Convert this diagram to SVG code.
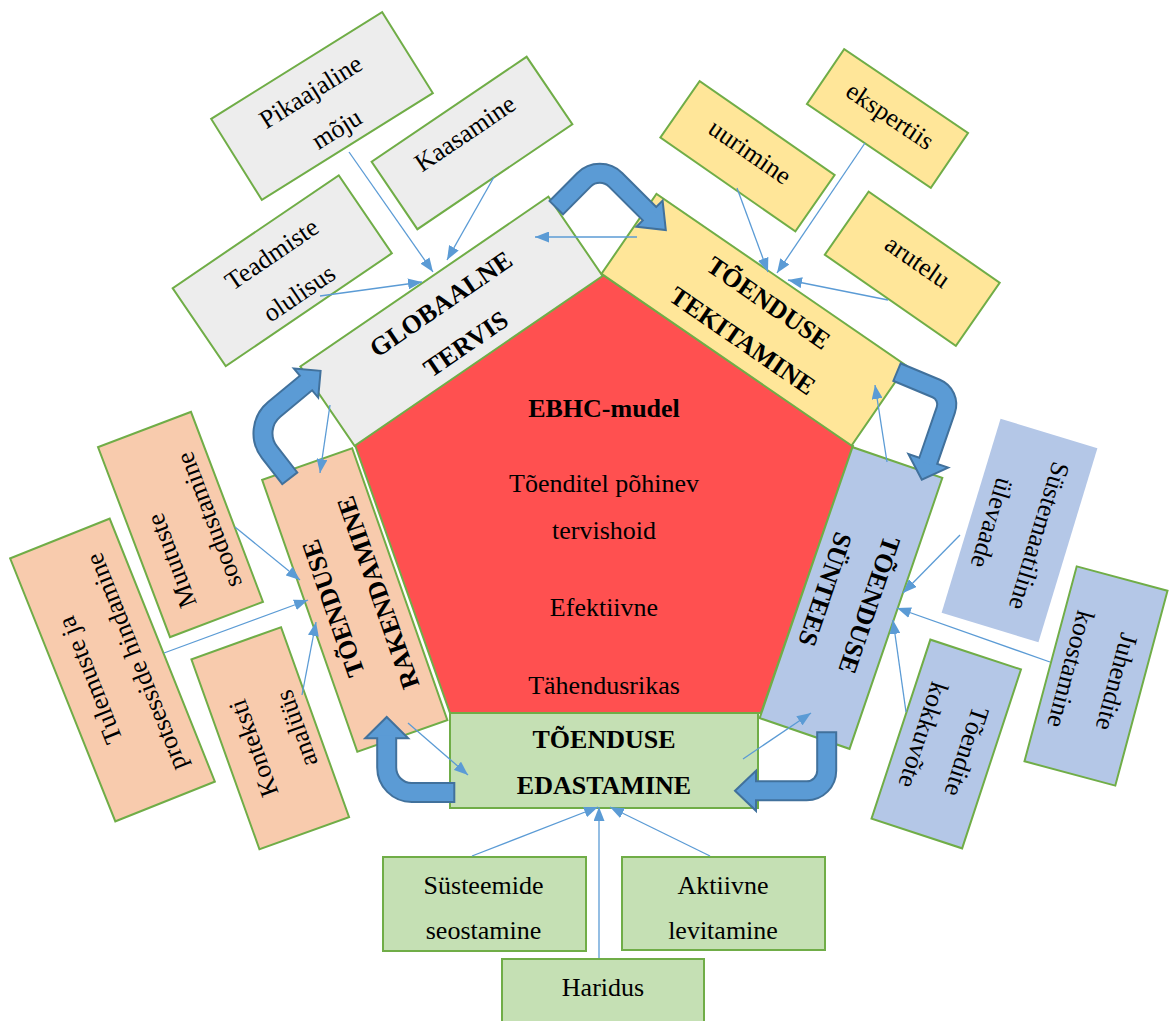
<svg xmlns="http://www.w3.org/2000/svg" width="1169" height="1021" viewBox="0 0 1169 1021">
  <defs>
    <style>
      .box { stroke: #70AD47; stroke-width: 2; }
      .nostroke { stroke: none; }
      .grey { fill: #EDEDED; }
      .yellow { fill: #FFE699; }
      .orange { fill: #F8CBAD; }
      .blue { fill: #B4C7E7; }
      .green { fill: #C5E0B4; }
      .core { fill: #FF5050; stroke: #70AD47; stroke-width: 2; }
      .lbl { font-family: "Liberation Serif", "Times New Roman", serif; font-size: 26px; fill: #000; text-anchor: middle; dominant-baseline: central; }
      .b { font-weight: bold; }
      .conn { stroke: #5B9BD5; stroke-width: 1.3; fill: none; marker-end: url(#ah); }
      .uo { stroke: #41719C; stroke-width: 21; fill: none; }
      .ui { stroke: #5B9BD5; stroke-width: 17; fill: none; }
      .uh { fill: #5B9BD5; stroke: #41719C; stroke-width: 2; stroke-linejoin: miter; }
    </style>
    <marker id="ah" viewBox="0 0 14 11" refX="14" refY="5.5" markerWidth="14" markerHeight="11" markerUnits="userSpaceOnUse" orient="auto">
      <path d="M0,0 L14,5.5 L0,11 z" fill="#5B9BD5"/>
    </marker>
  </defs>

  <!-- central pentagon -->
  <g id="ebhc">
    <polygon class="core" points="603,275 853,446 761,713 450,713 355,445"/>
    <text class="lbl b" x="604" y="408">EBHC-mudel</text>
    <text class="lbl" x="604" y="483">Tõenditel põhinev</text>
    <text class="lbl" x="604" y="530">tervishoid</text>
    <text class="lbl" x="604" y="607">Efektiivne</text>
    <text class="lbl" x="604" y="685">Tähendusrikas</text>
  </g>

  <!-- five stages around the pentagon -->
  <g id="globaalne-tervis" transform="translate(451.5,321.25) rotate(-34.4)">
    <rect class="box grey" x="-150.3" y="-48" width="300.6" height="96"/>
    <text class="lbl b" x="1" y="-20">GLOBAALNE</text>
    <text class="lbl b" x="-1" y="27">TERVIS</text>
  </g>
  <g id="toenduse-tekitamine" transform="translate(754,319.75) rotate(34.5)">
    <rect class="box yellow" x="-151.7" y="-48.5" width="303.4" height="97"/>
    <text class="lbl b" x="2.5" y="-22">TÕENDUSE</text>
    <text class="lbl b" x="2.5" y="24">TEKITAMINE</text>
  </g>
  <g id="toenduse-syntees" transform="translate(851,598) rotate(108.9)">
    <rect class="box blue" x="-143.2" y="-47.5" width="286.4" height="95"/>
    <text class="lbl b" x="0.7" y="-19.5">TÕENDUSE</text>
    <text class="lbl b" x="0.1" y="27.5">SÜNTEES</text>
  </g>
  <g id="toenduse-rakendamine" transform="translate(354.75,600) rotate(-109.3)">
    <rect class="box orange" x="-144" y="-47.7" width="288" height="95.4"/>
    <text class="lbl b" x="-0.7" y="-23">TÕENDUSE</text>
    <text class="lbl b" x="-0.7" y="24.7">RAKENDAMINE</text>
  </g>
  <g id="toenduse-edastamine">
    <rect class="box green" x="450" y="713" width="308" height="95"/>
    <text class="lbl b" x="604" y="739.5">TÕENDUSE</text>
    <text class="lbl b" x="604" y="785">EDASTAMINE</text>
  </g>

  <!-- grey satellites -->
  <g id="pikaajaline-moju" transform="translate(322,106) rotate(-32)">
    <rect class="box grey" x="-100.8" y="-47.8" width="201.6" height="95.6"/>
    <text class="lbl" x="-1.9" y="-18">Pikaajaline</text>
    <text class="lbl" x="0.3" y="27.3">mõju</text>
  </g>
  <g id="kaasamine" transform="translate(472,143) rotate(-34.1)">
    <rect class="box grey" x="-93.6" y="-40.8" width="187.2" height="81.6"/>
    <text class="lbl" x="-0.4" y="-11.9">Kaasamine</text>
  </g>
  <g id="teadmiste-olulisus" transform="translate(282.25,270.75) rotate(-34.2)">
    <rect class="box grey" x="-100.4" y="-47.2" width="200.8" height="94.4"/>
    <text class="lbl" x="0.6" y="-19.6">Teadmiste</text>
    <text class="lbl" x="1.3" y="28.1">olulisus</text>
  </g>

  <!-- yellow satellites -->
  <g id="uurimine" transform="translate(747.5,156.25) rotate(34.8)">
    <rect class="box yellow" x="-82.2" y="-34.4" width="164.4" height="68.8"/>
    <text class="lbl" x="-0.5" y="-5.1">uurimine</text>
  </g>
  <g id="ekspertiis" transform="translate(887.5,118.5) rotate(34.1)">
    <rect class="box yellow" x="-74.8" y="-33.2" width="149.6" height="66.4"/>
    <text class="lbl" x="0.6" y="-3.6">ekspertiis</text>
  </g>
  <g id="arutelu" transform="translate(912.25,268.75) rotate(34.8)">
    <rect class="box yellow" x="-79.8" y="-38.4" width="159.6" height="76.8"/>
    <text class="lbl" x="0.3" y="-8.8">arutelu</text>
  </g>

  <!-- orange satellites -->
  <g id="muutuste-soodustamine" transform="translate(180.5,524.5) rotate(-110.75)">
    <rect class="box orange" x="-101.6" y="-49.7" width="203.2" height="99.4"/>
    <text class="lbl" x="-30.8" y="-21.1">Muutuste</text>
    <text class="lbl" x="-5.9" y="28.3">soodustamine</text>
  </g>
  <g id="tulemuste-hindamine" transform="translate(112.5,670) rotate(-111.8)">
    <rect class="box orange" x="-141.6" y="-53.6" width="283.2" height="107.2"/>
    <text class="lbl" x="-1" y="-24.6">Tulemuste ja</text>
    <text class="lbl" x="-1.3" y="24.8">protsesside hindamine</text>
  </g>
  <g id="konteksti-analyys" transform="translate(270.25,738.25) rotate(-109.7)">
    <rect class="box orange" x="-100.9" y="-47.6" width="201.8" height="95.2"/>
    <text class="lbl" x="-3.8" y="-19">Konteksti</text>
    <text class="lbl" x="0.3" y="28">analüüs</text>
  </g>

  <!-- blue satellites -->
  <g id="systemaatiline-ulevaade" transform="translate(1019.5,530.5) rotate(106.9)">
    <rect class="nostroke blue" x="-101.4" y="-50.6" width="202.8" height="101.2"/>
    <text class="lbl" x="-0.4" y="-20.3">Süstemaatiline</text>
    <text class="lbl" x="0.8" y="28.5">ülevaade</text>
  </g>
  <g id="juhendite-koostamine" transform="translate(1096,676) rotate(105)">
    <rect class="box blue" x="-100.9" y="-47" width="201.8" height="94"/>
    <text class="lbl" x="0.2" y="-21.5">Juhendite</text>
    <text class="lbl" x="-0.1" y="26.1">koostamine</text>
  </g>
  <g id="toendite-kokkuvote" transform="translate(946.25,744) rotate(108.2)">
    <rect class="box blue" x="-94.2" y="-47.7" width="188.4" height="95.4"/>
    <text class="lbl" x="0.9" y="-21.8">Tõendite</text>
    <text class="lbl" x="-1.35" y="24.6">kokkuvõte</text>
  </g>

  <!-- green satellites -->
  <g id="systeemide-seostamine">
    <rect class="box green" x="383" y="857" width="203" height="94"/>
    <text class="lbl" x="483.5" y="885">Süsteemide</text>
    <text class="lbl" x="483.5" y="930">seostamine</text>
  </g>
  <g id="aktiivne-levitamine">
    <rect class="box green" x="622" y="857" width="203" height="93"/>
    <text class="lbl" x="723" y="885">Aktiivne</text>
    <text class="lbl" x="723" y="930">levitamine</text>
  </g>
  <g id="haridus">
    <rect class="box green" x="502" y="959" width="202" height="70"/>
    <text class="lbl" x="603" y="987">Haridus</text>
  </g>

  <!-- thin connectors -->
  <g id="connectors">
    <line class="conn" x1="349" y1="152" x2="433" y2="272"/>
    <line class="conn" x1="494" y1="177" x2="447" y2="260"/>
    <line class="conn" x1="320" y1="296" x2="422" y2="282"/>
    <line class="conn" x1="637" y1="237" x2="535" y2="237"/>
    <line class="conn" x1="737" y1="188" x2="768" y2="272"/>
    <line class="conn" x1="865" y1="143" x2="777" y2="273"/>
    <line class="conn" x1="888" y1="300" x2="788" y2="280"/>
    <line class="conn" x1="887" y1="462" x2="875" y2="385"/>
    <line class="conn" x1="960" y1="535" x2="903" y2="593"/>
    <line class="conn" x1="1050" y1="662" x2="897" y2="608"/>
    <line class="conn" x1="906" y1="712" x2="893" y2="620"/>
    <line class="conn" x1="743" y1="759" x2="811" y2="713"/>
    <line class="conn" x1="235" y1="527" x2="300" y2="580"/>
    <line class="conn" x1="164" y1="653" x2="308" y2="600"/>
    <line class="conn" x1="302" y1="695" x2="316" y2="622"/>
    <line class="conn" x1="330" y1="405" x2="320" y2="473"/>
    <line class="conn" x1="408" y1="723" x2="468" y2="775"/>
    <line class="conn" x1="472" y1="856" x2="598" y2="807"/>
    <line class="conn" x1="599" y1="958" x2="599" y2="807"/>
    <line class="conn" x1="710" y1="856" x2="610" y2="807"/>
  </g>

  <!-- cycle arrows between stages -->
  <g id="cycle-arrows">
    <g>
      <path class="uo" d="M555.6,208.4 L583.9,179.9 A22.5,22.5 0 0 1 615.7,179.9 L649.5,213.7"/>
      <polygon class="uh" points="662.6,200.6 665.8,230 636.4,226.8"/>
      <path class="ui" d="M557,207 L583.9,179.9 A22.5,22.5 0 0 1 615.7,179.9 L651.6,215.8"/>
    </g>
    <g>
      <path class="uo" d="M896.1,371.7 L936.2,388.5 A17.2,17.2 0 0 1 945.8,410 L928.3,460.8"/>
      <polygon class="uh" points="948.2,467.6 921.8,479.7 908.4,454"/>
      <path class="ui" d="M897.9,372.5 L936.2,388.5 A17.2,17.2 0 0 1 945.8,410 L927.3,463.6"/>
    </g>
    <g>
      <path class="uo" d="M826.7,731.3 L826.7,770.8 A20,20 0 0 1 806.7,790.8 L756,790.8"/>
      <polygon class="uh" points="756,770.8 735,790.8 756,810.8"/>
      <path class="ui" d="M826.7,733.3 L826.7,770.8 A20,20 0 0 1 806.7,790.8 L753,790.8"/>
    </g>
    <g>
      <path class="uo" d="M455.3,792.5 L411.7,792.5 A25,25 0 0 1 386.7,767.5 L386.7,738.3"/>
      <polygon class="uh" points="365.2,738.3 386.7,717 408.2,738.3"/>
      <path class="ui" d="M453.3,792.5 L411.7,792.5 A25,25 0 0 1 386.7,767.5 L386.7,735.3"/>
    </g>
    <g>
      <path class="uo" d="M290.4,479.1 L269.5,452.2 A30.9,30.9 0 0 1 274.2,409.4 L306,383"/>
      <polygon class="uh" points="293.8,368.4 320.6,370.8 318.2,397.6"/>
      <path class="ui" d="M289.2,477.5 L269.5,452.2 A30.9,30.9 0 0 1 274.2,409.4 L308.3,381.1"/>
    </g>
  </g>
</svg>
